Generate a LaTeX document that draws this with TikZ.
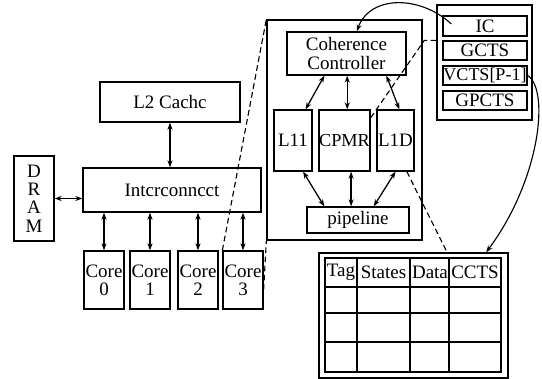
\documentclass[tikz,border=0pt]{standalone}
\usepackage{fontspec}
\setmainfont{Liberation Serif}
\usepackage{tikz}
\usetikzlibrary{arrows.meta,shapes,positioning}

\begin{document}
\begin{tikzpicture}[x=0.025cm,y=-0.025cm,
	blk/.style={draw,line width=0.9pt,inner sep=0pt,align=center,font=\fontsize{13.5}{13}\selectfont},
	hdr/.style={inner sep=0pt,font=\fontsize{13.5}{13}\selectfont},
	arr/.style={{Stealth[length=5pt,width=3.6pt]}-{Stealth[length=5pt,width=3.6pt]},line width=0.9pt},
	crv/.style={-{Stealth[length=5pt,width=3.6pt]},line width=0.8pt},
	dsh/.style={dash pattern=on 4pt off 2.5pt,line width=0.8pt}]
			\useasboundingbox (0,0) rectangle (542,379);
			% left side
			\node[blk,minimum width=3.5cm,minimum height=1cm] (l2) at (170,102) {L2 Cachc};
			\node[blk,minimum width=4.45cm,minimum height=1.1cm] (inter) at (172,190) {Intcrconncct};
			\node[blk,minimum width=1cm,minimum height=2.125cm] (dram) at (34,198.5) {D\\R\\A\\M};
			\foreach \i/\x in {0/104,1/150,2/198,3/243}
				\node[blk,minimum width=1cm,minimum height=1.45cm] (c\i) at (\x,280) {Core\\\i};
			\draw[arr] (l2.south) -- (l2.south |- inter.north);
			\draw[arr] (dram.east) -- (dram.east -| inter.west);
			\foreach \i in {0,...,3}
				\draw[arr] (c\i.north) -- (c\i.north |- inter.south);
			% core detail
			\node[blk,minimum width=3.875cm,minimum height=5.5cm] (big) at (344.5,130) {};
			\node[blk,minimum width=2.975cm,minimum height=1.075cm] (cc) at (346.5,53.5) {Coherence\\Controller};
			\node[blk,minimum width=0.95cm,minimum height=1.525cm] (l11) at (293,140.5) {L11};
			\node[blk,minimum width=1.275cm,minimum height=1.525cm,font=\fontsize{13}{13}\selectfont] (cpmr) at (344.5,140.5) {CPMR};
			\node[blk,minimum width=0.925cm,minimum height=1.525cm] (l1d) at (395.5,140.5) {L1D};
			\node[blk,minimum width=2.55cm,minimum height=0.65cm] (pipe) at (358,220) {pipeline};
			\draw[arr] (cc.225) -- (l11.68);
			\draw[arr] (cpmr.85) -- (cpmr.85 |- cc.south);
			\draw[arr] (cc.331) -- (l1d.83);
			\draw[arr] (l11.-72) -- (pipe.158);
			\draw[arr] (cpmr.-78) -- (cpmr.-78 |- pipe.north);
			\draw[arr] (l1d.south) -- (pipe.41);
			% registers
			\node[blk,minimum width=2.375cm,minimum height=2.875cm] (rbox) at (484.5,62.5) {};
			\node[blk,minimum width=2.1cm,minimum height=0.5cm] (ic) at (485,26) {IC};
			\node[blk,minimum width=2.1cm,minimum height=0.475cm] (gcts) at (485,50.5) {GCTS};
			\node[blk,minimum width=2.1cm,minimum height=0.475cm,font=\fontsize{12.8}{13}\selectfont] (vcts) at (485,75.5) {VCTS[P-1]};
			\node[blk,minimum width=2.1cm,minimum height=0.475cm] (gpcts) at (485,100.5) {GPCTS};
			% cache table
			\node[blk,minimum width=4.725cm,minimum height=3.125cm] (tbl) at (413.5,315.5) {};
			\node[blk,minimum width=4.4cm,minimum height=2.85cm] (tblin) at (413,315) {};
			\foreach \x in {357,410,449}
				\draw[line width=0.9pt] (\x,258) -- (\x,372);
			\foreach \y in {287,313,342}
				\draw[line width=0.9pt] (325,\y) -- (501,\y);
			\node[hdr] (tag) at (341,272.5) {Tag};
			\node[hdr] (states) at (383.5,272.5) {States};
			\node[hdr] (data) at (430,272.5) {Data};
			\node[hdr] (ccts) at (475,272.5) {CCTS};
			% links
			\draw[crv] (ic.west) ++(9,-2) .. controls (420,-5) and (370,-5) .. (cc.65);
			\draw[crv] (vcts.east) .. controls (550,90) and (540,180) .. (tbl.41);
			\draw[dsh] (rbox.west |- gcts.north) -- ++(-12,0) -- (cpmr.41);
			\draw[dsh] (l1d.-70) -- (tbl.62);
			\draw[dsh] (c3.north west) -- (big.north west);
			\draw[dsh] (c3.-25) -- (big.south west);
\end{tikzpicture}
\end{document}
